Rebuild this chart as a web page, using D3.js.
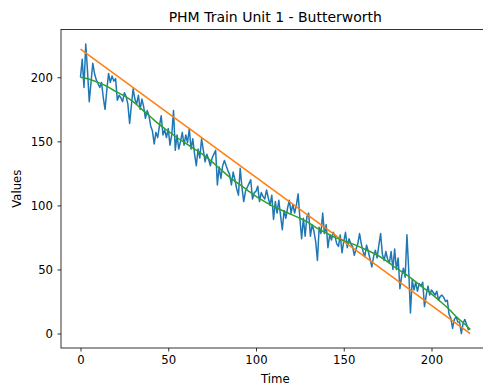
<!DOCTYPE html>
<html>
<head>
<meta charset="utf-8">
<script src="https://cdn.jsdelivr.net/npm/d3@7"></script>
<style>
    html, body { margin: 0; padding: 0; background: #fff; }
    svg { display: block; font-family: "DejaVu Sans", sans-serif; }
</style>
</head>
<body>
<div id="chart"></div>
<script>
// Raw signal, one value per time step (0..222)
const rawValues = [
    200, 214, 192, 226, 205, 181, 196, 211, 203, 198,
    195, 192, 196, 184, 175, 190, 203, 196, 201, 197,
    199, 182, 186, 184, 181, 188, 185, 179, 164, 178,
    191, 183, 179, 186, 175, 183, 177, 168, 174, 170,
    162, 158, 148, 157, 153, 162, 170, 155, 159, 153,
    160, 147, 155, 174, 143, 155, 144, 150, 157, 147,
    155, 149, 160, 144, 152, 140, 131, 144, 137, 152,
    143, 134, 140, 136, 131, 137, 140, 143, 116, 130,
    121, 131, 135, 131, 127, 124, 116, 126, 120, 113,
    108, 129, 114, 103, 111, 114, 117, 120, 105, 110,
    111, 115, 103, 110, 107, 105, 112, 106, 100, 108,
    89, 103, 94, 104, 92, 81, 96, 90, 98, 104,
    94, 101, 94, 100, 109, 90, 74, 90, 76, 91,
    94, 76, 85, 80, 72, 57, 83, 78, 94, 78,
    85, 67, 77, 73, 79, 76, 70, 68, 77, 63,
    72, 79, 67, 74, 70, 68, 61, 66, 70, 78,
    70, 64, 60, 69, 64, 58, 52, 60, 65, 59,
    69, 78, 62, 57, 64, 58, 55, 64, 50, 66,
    50, 59, 35, 45, 51, 44, 77, 50, 16, 42,
    34, 40, 33, 39, 37, 40, 21, 30, 37, 30,
    34, 32, 30, 33, 26, 29, 30, 28, 25, 26,
    15, 12, 4, 11, 13, 9, 9, 0, 8, 11,
    7, 3, 4
];

// Butterworth filtered signal, sampled
const filteredTime = [0, 5, 10, 15, 20, 25, 30, 35, 40, 45, 50, 55, 60, 65, 70, 75, 80, 85, 90, 95, 100,
    105, 110, 115, 120, 125, 130, 135, 140, 145, 150, 155, 160, 165, 170, 175, 180, 185, 190, 195, 200,
    205, 210, 215, 220, 222];
const filteredValues = [200, 198.5, 196, 193, 189, 185.5, 181, 175, 169, 163, 158, 153, 148.5, 144, 139.5, 134, 128, 122, 117, 112, 107,
    103, 99, 96, 93, 90, 86.5, 82, 78.5, 75, 72.5, 70, 67, 64, 60.5, 56, 51, 46.5, 41.5, 36, 31,
    25, 19, 12, 6, 3];

// Linear trend
const trendTime = [0, 222];
const trendValues = [222, 0];

const xTicks = [0, 50, 100, 150, 200];
const yTicks = [0, 50, 100, 150, 200];

const title = 'PHM Train Unit 1 - Butterworth';

const width = 483, height = 387;
const margin = { left: 61, right: 489.6, top: 29.5, bottom: 348 };

const svg = d3.select('#chart')
    .append('svg')
    .attr('width', width)
    .attr('height', height);

// matplotlib-like 5% margins
const xExt = [0, d3.max([rawValues.length - 1, d3.max(trendTime)])];
const xPad = (xExt[1] - xExt[0]) * 0.05;
const x = d3.scaleLinear()
    .domain([xExt[0] - xPad, xExt[1] + xPad])
    .range([margin.left, margin.right]);

const yExt = d3.extent(rawValues.concat(filteredValues, trendValues));
const yPad = (yExt[1] - yExt[0]) * 0.05;
const y = d3.scaleLinear()
    .domain([yExt[0] - yPad, yExt[1] + yPad])
    .range([margin.bottom, margin.top]);

svg.append('clipPath')
    .attr('id', 'plot-clip')
    .append('rect')
    .attr('x', margin.left)
    .attr('y', margin.top)
    .attr('width', margin.right - margin.left)
    .attr('height', margin.bottom - margin.top);

const plot = svg.append('g').attr('clip-path', 'url(#plot-clip)');

const line = d3.line()
    .x(d => x(d[0]))
    .y(d => y(d[1]));

plot.append('path')
    .datum(rawValues.map((v, i) => [i, v]))
    .attr('d', line)
    .attr('fill', 'none')
    .attr('stroke', '#1f77b4')
    .attr('stroke-width', 1.5)
    .attr('stroke-linejoin', 'round');

plot.append('path')
    .datum(trendTime.map((t, i) => [t, trendValues[i]]))
    .attr('d', line)
    .attr('fill', 'none')
    .attr('stroke', '#ff7f0e')
    .attr('stroke-width', 1.5);

plot.append('path')
    .datum(filteredTime.map((t, i) => [t, filteredValues[i]]))
    .attr('d', line.curve(d3.curveMonotoneX))
    .attr('fill', 'none')
    .attr('stroke', '#2ca02c')
    .attr('stroke-width', 1.5);

// Axes
const xAxis = svg.append('g')
    .attr('transform', `translate(0,${margin.bottom})`)
    .call(d3.axisBottom(x).tickValues(xTicks).tickFormat(d3.format('d')).tickSizeOuter(0).tickSize(3.5).tickPadding(4.5));

const yAxis = svg.append('g')
    .attr('transform', `translate(${margin.left},0)`)
    .call(d3.axisLeft(y).tickValues(yTicks).tickFormat(d3.format('d')).tickSizeOuter(0).tickSize(3.5).tickPadding(4.5));

[xAxis, yAxis].forEach(a => {
    a.select('.domain').remove();
    a.selectAll('line').attr('stroke', '#000').attr('stroke-width', 0.8);
    a.selectAll('text')
        .attr('fill', '#000')
        .style('font-family', '"DejaVu Sans", sans-serif')
        .style('font-size', '11.7px');
});

// Spines
svg.append('rect')
    .attr('x', margin.left)
    .attr('y', margin.top)
    .attr('width', margin.right - margin.left)
    .attr('height', margin.bottom - margin.top)
    .attr('fill', 'none')
    .attr('stroke', '#000')
    .attr('stroke-width', 0.8);

// Labels
svg.append('text')
    .attr('x', (margin.left + margin.right) / 2)
    .attr('y', 21.5)
    .attr('text-anchor', 'middle')
    .style('font-size', '14px')
    .text(title);

svg.append('text')
    .attr('x', (margin.left + margin.right) / 2)
    .attr('y', 383)
    .attr('text-anchor', 'middle')
    .style('font-size', '11.7px')
    .text('Time');

svg.append('text')
    .attr('transform', `translate(21,${(margin.top + margin.bottom) / 2}) rotate(-90)`)
    .attr('text-anchor', 'middle')
    .style('font-size', '11.7px')
    .text('Values');
</script>
</body>
</html>
